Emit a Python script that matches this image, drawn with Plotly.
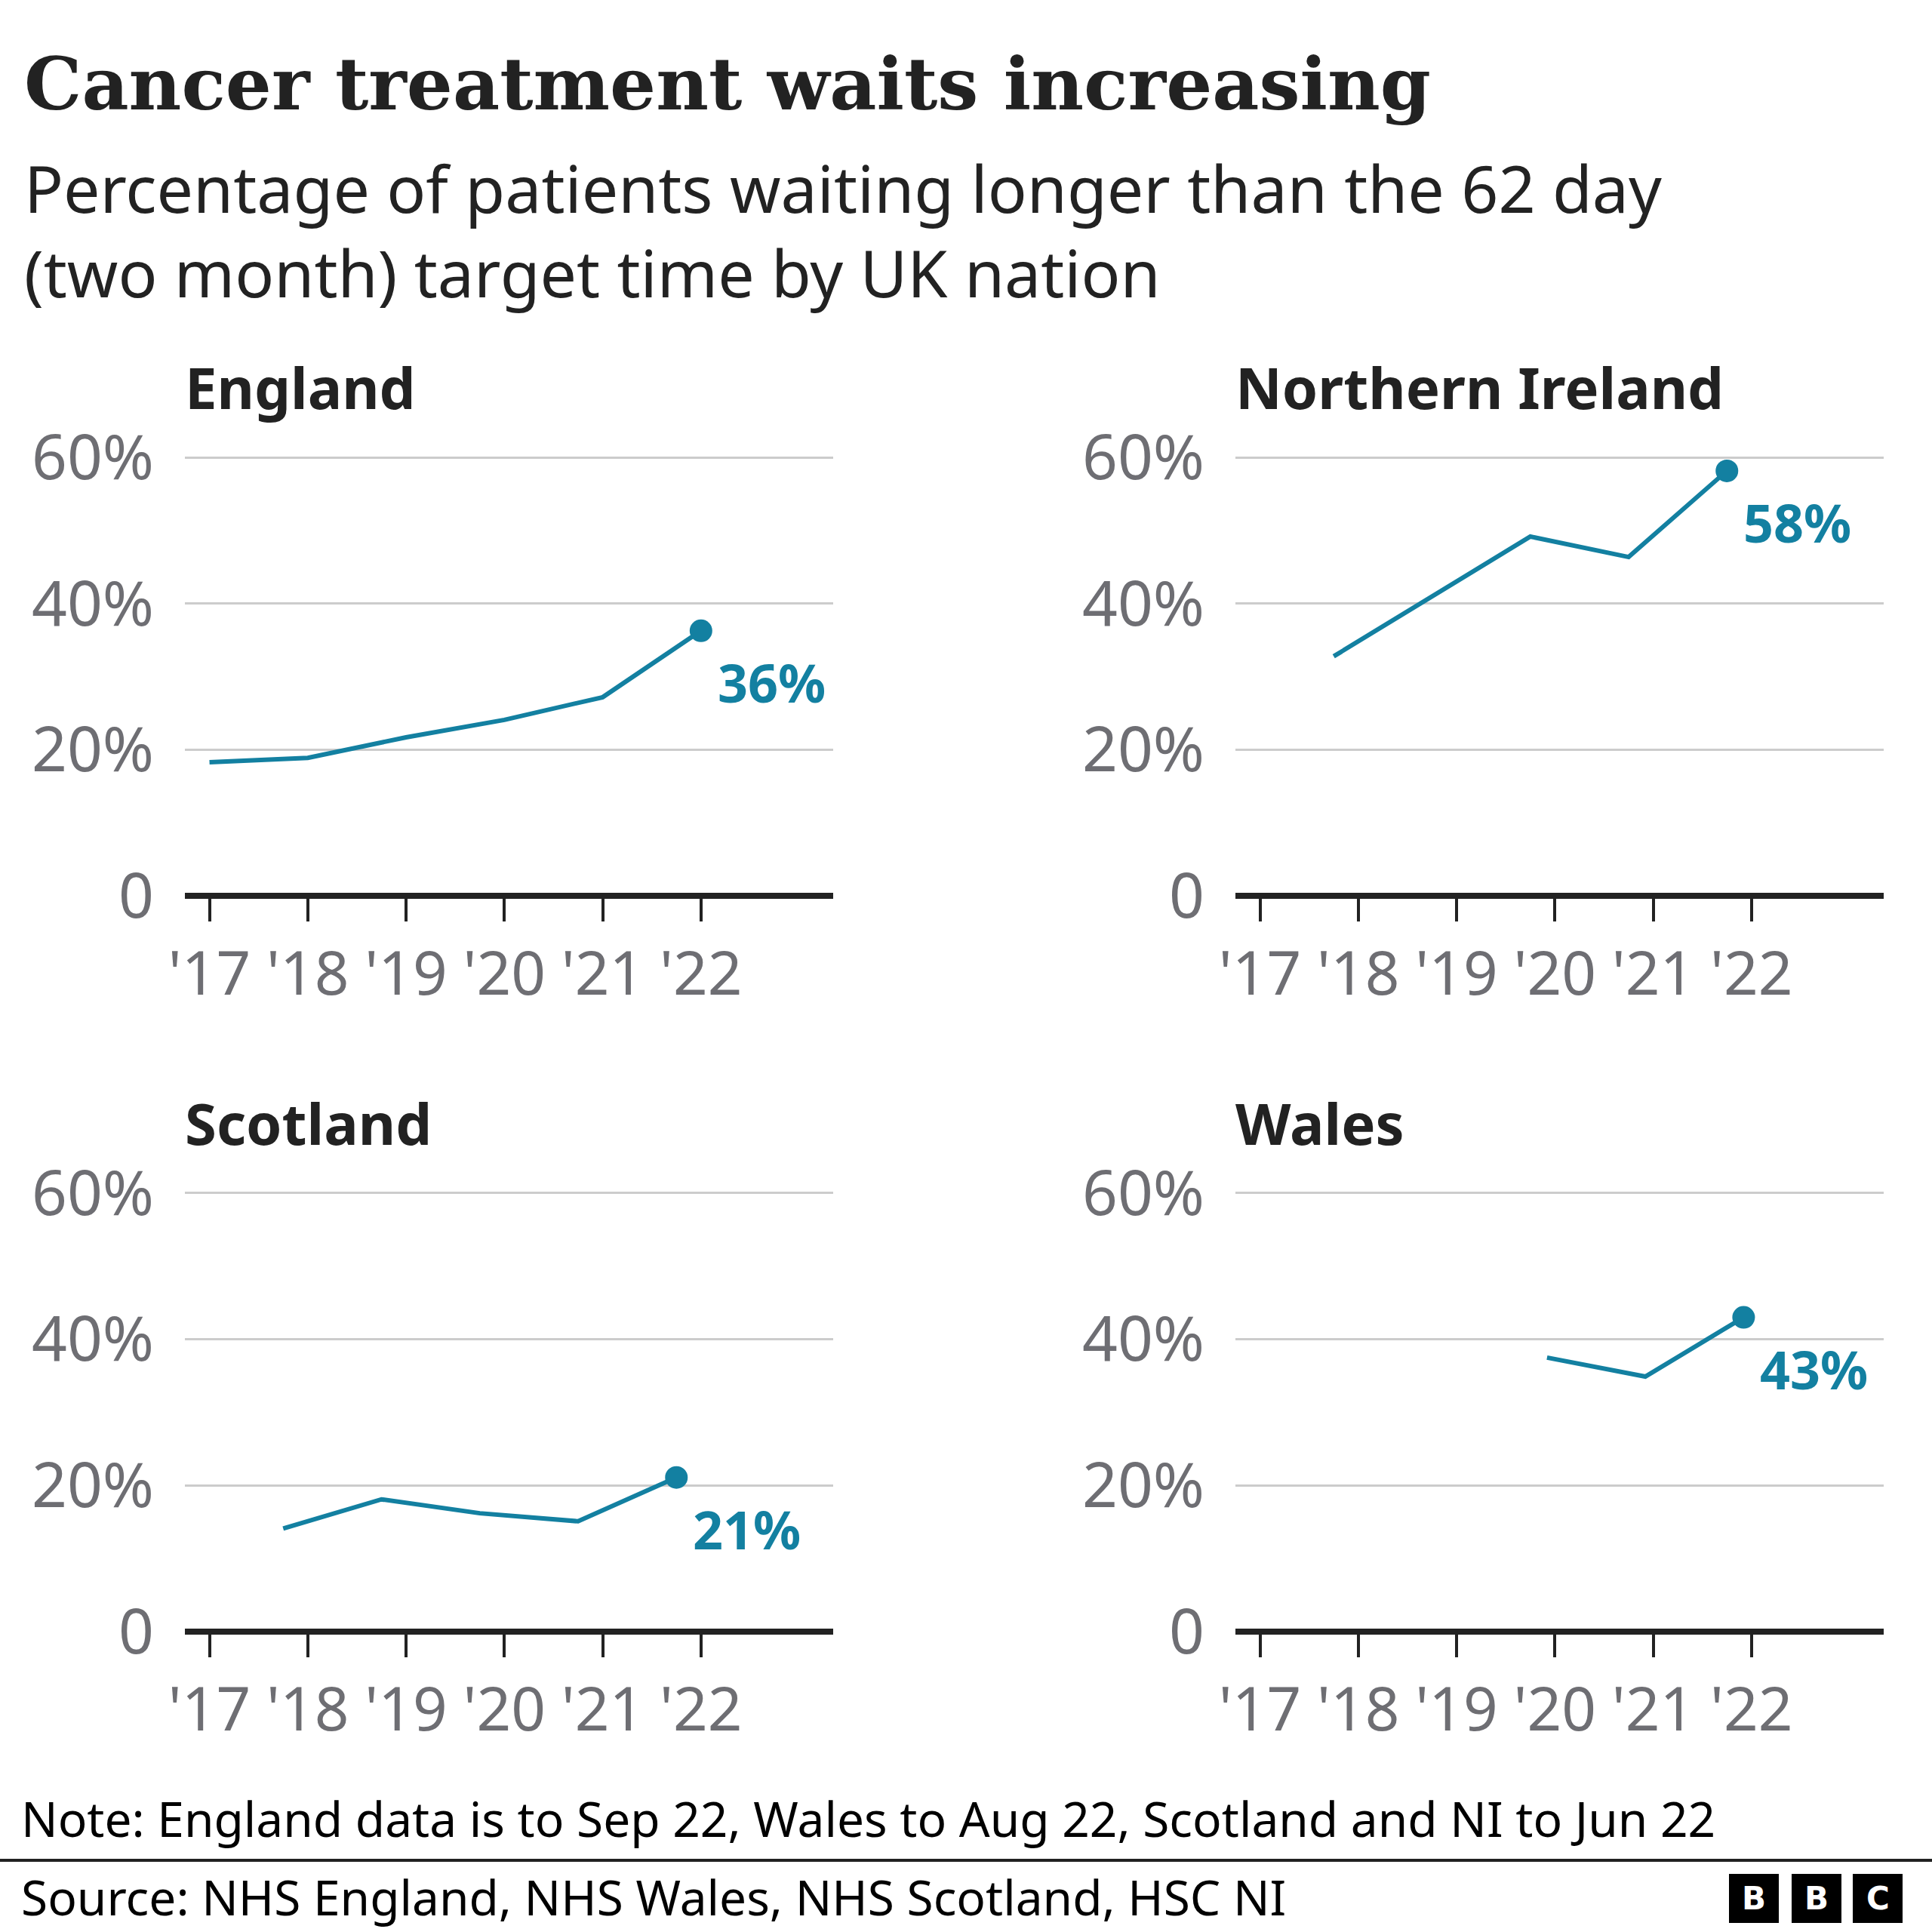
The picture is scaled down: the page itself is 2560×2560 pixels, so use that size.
import plotly.graph_objects as go

# ---------------- data ----------------
year_ticks = [2017, 2018, 2019, 2020, 2021, 2022]
year_labels = ["'17", "'18", "'19", "'20", "'21", "'22"]
pct_ticks = [0, 20, 40, 60]
pct_labels = ["0", "20%", "40%", "60%"]

england_x = [2017.0, 2018.0, 2019.0, 2020.0, 2021.0, 2022.0]
england_y = [18.3, 18.9, 21.7, 24.1, 27.2, 36.3]

ni_x = [2017.75, 2018.75, 2019.75, 2020.75, 2021.75]
ni_y = [32.8, 41.0, 49.2, 46.4, 58.2]

scotland_x = [2017.75, 2018.75, 2019.75, 2020.75, 2021.75]
scotland_y = [14.1, 18.1, 16.2, 15.1, 21.1]

wales_x = [2019.92, 2020.92, 2021.92]
wales_y = [37.5, 34.9, 43.0]

panel_names = ["England", "Northern Ireland", "Scotland", "Wales"]
end_labels = ["36%", "58%", "21%", "43%"]

title = "Cancer treatment waits increasing"
subtitle_1 = "Percentage of patients waiting longer than the 62 day"
subtitle_2 = "(two month) target time by UK nation"
note = "Note: England data is to Sep 22, Wales to Aug 22, Scotland and NI to Jun 22"
source = "Source: NHS England, NHS Wales, NHS Scotland, HSC NI"

# ---------------- styling ----------------
W = H = 2560
TEAL = "#1380A1"
DARK = "#222222"
GREY = "#6e6e73"
GRID = "#cccccc"
SANS = "Noto Sans, Open Sans, sans-serif"
SERIF = "DejaVu Serif, serif"
Y_MAX = 61.0
X_RANGE = [2016.75, 2023.345]


def px(x):
    return x / W


def py(y):
    return 1 - y / H


# panel boxes in pixel coords: (left, right, y of 60%, y of 0)
boxes = [
    (245, 1104, 606.5, 1187),
    (1637, 2496, 606.5, 1187),
    (245, 1104, 1581, 2162),
    (1637, 2496, 1581, 2162),
]
series = [(england_x, england_y), (ni_x, ni_y), (scotland_x, scotland_y), (wales_x, wales_y)]

fig = go.Figure()
layout = dict(
    width=W, height=H, margin=dict(l=0, r=0, t=0, b=0, pad=0, autoexpand=False),
    paper_bgcolor="white", plot_bgcolor="white", showlegend=False,
    font=dict(family=SANS, color=DARK), template="none",
)
annotations = []
shapes = []

for i, ((xs, ys), box, name, lab) in enumerate(zip(series, boxes, panel_names, end_labels)):
    n = "" if i == 0 else str(i + 1)
    xa, ya = "x" + n, "y" + n
    l, r, t60, b = box
    top = b - (Y_MAX / 60.0) * (b - t60)
    layout["xaxis" + n] = dict(
        domain=[px(l), px(r)], anchor=ya, range=X_RANGE, automargin=False,
        tickmode="array", tickvals=year_ticks, ticktext=year_labels,
        ticks="outside", ticklen=33, tickwidth=4, tickcolor=DARK,
        showline=False, showgrid=False, zeroline=False, ticklabelstandoff=1,
        tickfont=dict(family=SANS, size=80, color=GREY), fixedrange=True,
    )
    layout["yaxis" + n] = dict(
        domain=[py(b), py(top)], anchor=xa, range=[0, Y_MAX], automargin=False,
        tickmode="array", tickvals=pct_ticks, ticktext=pct_labels,
        ticks="", showline=False, zeroline=False,
        showgrid=True, gridcolor=GRID, gridwidth=3,
        ticklabelstandoff=40,
        tickfont=dict(family=SANS, size=82, color=GREY), fixedrange=True,
    )
    # baseline (x axis line) centred on y = 0, drawn in paper coords so it is not clipped
    shapes.append(dict(type="line", xref="paper", yref="paper",
                       x0=px(l), x1=px(r), y0=py(b), y1=py(b),
                       line=dict(color=DARK, width=8)))
    fig.add_trace(go.Scatter(
        x=xs, y=ys, xaxis=xa, yaxis=ya, mode="lines",
        line=dict(color=TEAL, width=6), cliponaxis=False, hoverinfo="skip",
    ))
    fig.add_trace(go.Scatter(
        x=[xs[-1]], y=[ys[-1]], xaxis=xa, yaxis=ya, mode="markers",
        marker=dict(color=TEAL, size=30), cliponaxis=False, hoverinfo="skip",
    ))
    annotations.append(dict(
        x=xs[-1], y=ys[-1], xref=xa, yref=ya, text="<b>" + lab + "</b>",
        showarrow=False, xanchor="left", yanchor="middle", xshift=20, yshift=-68,
        font=dict(family=SANS, size=70, color=TEAL),
    ))
    # panel title
    annotations.append(dict(
        x=px(l - 2), y=py(t60 - 94), xref="paper", yref="paper",
        text="<b>" + name + "</b>", showarrow=False,
        xanchor="left", yanchor="middle",
        font=dict(family=SANS, size=76, color=DARK),
    ))

# headline texts
annotations += [
    dict(x=px(30), y=py(112), xref="paper", yref="paper", text="<b>" + title + "</b>",
         showarrow=False, xanchor="left", yanchor="middle",
         font=dict(family=SERIF, size=96, color=DARK)),
    dict(x=px(30), y=py(304), xref="paper", yref="paper",
         text=subtitle_1 + "<br>" + subtitle_2, align="left",
         showarrow=False, xanchor="left", yanchor="middle",
         font=dict(family=SANS, size=86, color=DARK)),
    dict(x=px(26), y=py(2409), xref="paper", yref="paper", text=note,
         showarrow=False, xanchor="left", yanchor="middle",
         font=dict(family=SANS, size=64, color="#000000")),
    dict(x=px(26), y=py(2513), xref="paper", yref="paper", text=source,
         showarrow=False, xanchor="left", yanchor="middle",
         font=dict(family=SANS, size=64, color="#000000")),
]

# footer separator
shapes.append(dict(type="line", xref="paper", yref="paper", x0=0, x1=1,
                   y0=py(2465), y1=py(2465), line=dict(color=DARK, width=4)))

# BBC blocks
for x0, letter in zip([2291, 2374, 2455], ["B", "B", "C"]):
    shapes.append(dict(type="rect", xref="paper", yref="paper",
                       x0=px(x0), x1=px(x0 + 66), y0=py(2548), y1=py(2483),
                       fillcolor="#000000", line=dict(width=0)))
    annotations.append(dict(x=px(x0 + 33), y=py(2515.5), xref="paper", yref="paper",
                            text="<b>" + letter + "</b>", showarrow=False,
                            xanchor="center", yanchor="middle",
                            font=dict(family="DejaVu Sans, sans-serif", size=42, color="white")))

layout["annotations"] = annotations
layout["shapes"] = shapes
fig.update_layout(**layout)
fig.write_html("out.html")
